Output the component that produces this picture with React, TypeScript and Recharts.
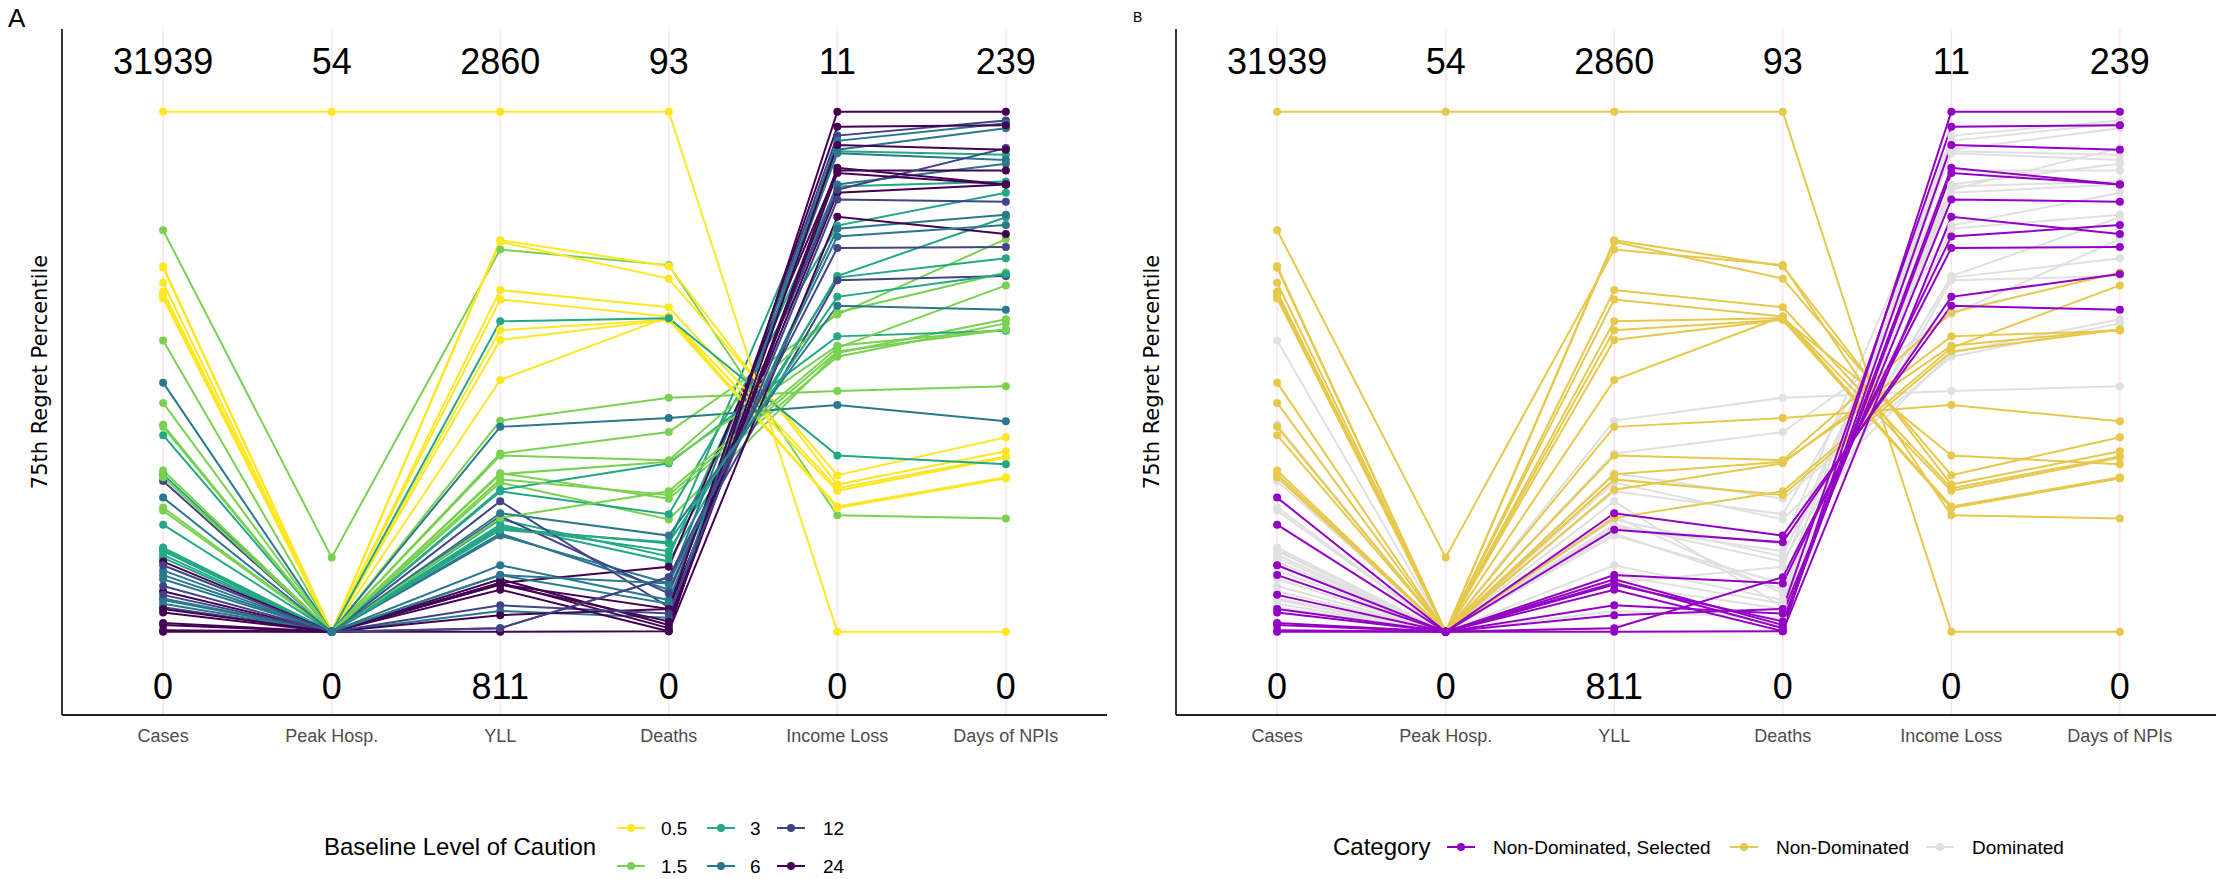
import React from 'react';
import { LineChart, Line, XAxis, YAxis, CartesianGrid, LabelList } from 'recharts';

// ---------- data ----------
const axisNames = ['Cases', 'Peak Hosp.', 'YLL', 'Deaths', 'Income Loss', 'Days of NPIs'];
const axisMaxLabels = ['31939', '54', '2860', '93', '11', '239'];
const axisMinLabels = ['0', '0', '811', '0', '0', '0'];

const cautionLegend = ['0.5', '1.5', '3', '6', '12', '24'];
const categoryLegend = ['Non-Dominated, Selected', 'Non-Dominated', 'Dominated'];

// one entry per policy line (dominated first, then non-dominated, then selected)
const cautionLevels = [
  '1.5', '1.5', '1.5', '1.5', '3', '3', '3', '3', '3', '12', '6', '6', '24', '24', '12', '6', '6', '6', '12',
  '0.5', '1.5', '0.5', '0.5', '0.5', '0.5', '0.5', '0.5', '0.5', '6', '3', '3', '1.5', '1.5', '1.5', '1.5',
  '24', '24', '24', '24', '24', '12', '24', '6', '12', '3', '6',
];
const categories = [
  'D', 'D', 'D', 'D', 'D', 'D', 'D', 'D', 'D', 'D', 'D', 'D', 'D', 'D', 'D', 'D', 'D', 'D', 'D',
  'N', 'N', 'N', 'N', 'N', 'N', 'N', 'N', 'N', 'N', 'N', 'N', 'N', 'N', 'N', 'N',
  'S', 'S', 'S', 'S', 'S', 'S', 'S', 'S', 'S', 'S', 'S',
];
const casesVals = [
  0.560, 0.398, 0.239, 0.233, 0.162, 0.148, 0.155, 0.142, 0.158, 0.290, 0.118, 0.061, 0.135, 0.078, 0.047, 0.064, 0.101, 0.054, 0.088,
  1.000, 0.772, 0.703, 0.700, 0.671, 0.654, 0.651, 0.646, 0.641, 0.479, 0.378, 0.303, 0.440, 0.394, 0.310, 0.297,
  0.000, 0.003, 0.013, 0.017, 0.037, 0.071, 0.044, 0.109, 0.128, 0.206, 0.258,
];
const peakVals = [
  0, 0, 0, 0, 0, 0, 0, 0, 0, 0, 0, 0, 0, 0, 0, 0, 0, 0, 0,
  1.000, 0.143, 0, 0, 0, 0, 0, 0, 0, 0, 0, 0, 0, 0, 0, 0,
  0, 0, 0, 0, 0, 0, 0, 0, 0, 0, 0,
];
const yllVals = [
  0.406, 0.343, 0.287, 0.305, 0.270, 0.216, 0.206, 0.199, 0.202, 0.251, 0.185, 0.128, 0.094, 0.091, 0.007, 0.109, 0.189, 0.040, 0.222,
  1.000, 0.735, 0.750, 0.753, 0.657, 0.639, 0.580, 0.561, 0.484, 0.394, 0.597, 0.273, 0.339, 0.303, 0.293, 0.219,
  0.000, 0.032, 0.094, 0.091, 0.101, 0.051, 0.081, 0.109, 0.007, 0.196, 0.228,
];
const deathsVals = [
  0.450, 0.384, 0.216, 0.256, 0.226, 0.145, 0.135, 0.170, 0.155, 0.047, 0.093, 0.061, 0.125, 0.044, 0.105, 0.054, 0.081, 0.027, 0.074,
  1.000, 0.705, 0.679, 0.703, 0.624, 0.606, 0.600, 0.600, 0.606, 0.411, 0.603, 0.324, 0.330, 0.327, 0.263, 0.270,
  0.001, 0.044, 0.007, 0.020, 0.013, 0.035, 0.001, 0.093, 0.105, 0.172, 0.185,
];
const incomeVals = [
  0.463, 0.610, 0.536, 0.529, 0.781, 0.856, 0.684, 0.924, 0.681, 0.954, 0.927, 0.860, 0.887, 0.844, 0.676, 0.920, 0.775, 0.944, 0.850,
  0.000, 0.224, 0.301, 0.283, 0.276, 0.271, 0.241, 0.238, 0.239, 0.436, 0.339, 0.568, 0.614, 0.550, 0.539, 0.546,
  1.000, 0.971, 0.936, 0.892, 0.882, 0.831, 0.798, 0.760, 0.738, 0.644, 0.627,
];
const daysVals = [
  0.472, 0.755, 0.601, 0.593, 0.844, 0.866, 0.797, 0.917, 0.718, 0.983, 0.968, 0.900, 0.887, 0.860, 0.684, 0.907, 0.802, 0.978, 0.930,
  0.000, 0.218, 0.374, 0.347, 0.337, 0.335, 0.297, 0.295, 0.295, 0.405, 0.322, 0.579, 0.691, 0.581, 0.581, 0.666,
  1.000, 0.974, 0.927, 0.860, 0.860, 0.827, 0.765, 0.782, 0.740, 0.688, 0.619,
];

// ---------- styles ----------
const cautionColors: Record<string, string> = {
  '0.5': '#FDE725', '1.5': '#7AD151', '3': '#22A884', '6': '#2A788E', '12': '#414487', '24': '#440154',
};
const categoryColors: Record<string, string> = { S: '#9400C3', N: '#E6C84C', D: '#E0E0E0' };
const categoryKeys = ['S', 'N', 'D'];

const FONT = "'Liberation Sans', Arial, sans-serif";
const TOP_LABEL_V = 1.097;
const BOTTOM_LABEL_V = -0.104;

const columns = [casesVals, peakVals, yllVals, deathsVals, incomeVals, daysVals];
const chartData = axisNames.map((name, i) => {
  const row: Record<string, number | string> = {
    x: i,
    name,
    top: TOP_LABEL_V,
    bottom: BOTTOM_LABEL_V,
    topText: axisMaxLabels[i],
    bottomText: axisMinLabels[i],
  };
  columns[i].forEach((v, j) => {
    row['l' + j] = v;
  });
  return row;
});

const bigLabel = (props: any) => {
  const vb = props.viewBox || {};
  const x = (props.x ?? vb.x) + ((props.width ?? vb.width) || 0) / 2;
  const y = (props.y ?? vb.y) + ((props.height ?? vb.height) || 0) / 2;
  return (
    <text x={x} y={y} dy="0.36em" textAnchor="middle" fontSize={36} fontFamily={FONT} fill="#000">
      {props.value}
    </text>
  );
};

function Panel({ width, left, colorOf }: { width: number; left: number; colorOf: (j: number) => string }) {
  const plotW = 1045;
  const yAxisW = 1;
  return (
    <LineChart
      width={width}
      height={879}
      data={chartData}
      margin={{ top: 29, right: width - left - plotW, bottom: 134, left: left - yAxisW }}
    >
      <CartesianGrid
        horizontal={false}
        vertical
        verticalValues={[0, 1, 2, 3, 4, 5]}
        stroke="#FCE6E9"
        strokeWidth={1.6}
      />
      <XAxis
        dataKey="x"
        type="number"
        domain={[-0.6, 5.6]}
        ticks={[0, 1, 2, 3, 4, 5]}
        allowDataOverflow
        tickFormatter={(i: number) => axisNames[i]}
        tickLine={false}
        tickMargin={8}
        height={30}
        axisLine={{ stroke: '#222', strokeWidth: 1.8 }}
        tick={{ fill: '#4D4D4D', fontSize: 18, fontFamily: FONT }}
      />
      <YAxis
        type="number"
        domain={[-0.16, 1.159]}
        allowDataOverflow
        width={yAxisW}
        tick={false}
        tickLine={false}
        axisLine={{ stroke: '#222', strokeWidth: 1.8 }}
      />
      {casesVals.map((_, j) => {
        const c = colorOf(j);
        return (
          <Line
            key={'l' + j}
            dataKey={'l' + j}
            stroke={c}
            strokeWidth={2}
            dot={{ r: 4, fill: c, stroke: c, strokeWidth: 0 }}
            activeDot={false}
            isAnimationActive={false}
          />
        );
      })}
      <Line dataKey="top" stroke="none" dot={false} activeDot={false} isAnimationActive={false}>
        <LabelList dataKey="topText" content={bigLabel} />
      </Line>
      <Line dataKey="bottom" stroke="none" dot={false} activeDot={false} isAnimationActive={false}>
        <LabelList dataKey="bottomText" content={bigLabel} />
      </Line>
    </LineChart>
  );
}

function LegendKey({ x, y, color }: { x: number; y: number; color: string }) {
  return (
    <g>
      <line x1={x} y1={y} x2={x + 28} y2={y} stroke={color} strokeWidth={2} />
      <circle cx={x + 14} cy={y} r={4} fill={color} />
    </g>
  );
}

export default function App() {
  const symX = [617, 707, 777];
  const labX = [661, 750, 823];
  const rowY = [828, 866];
  const catSymX = [1447, 1730, 1926];
  const catLabX = [1493, 1776, 1972];
  return (
    <div
      style={{
        position: 'absolute',
        left: 0,
        top: 0,
        width: 2216,
        height: 879,
        overflow: 'hidden',
        background: '#fff',
      }}
    >
      <div style={{ position: 'absolute', left: 0, top: 0 }}>
        <Panel width={1108} left={62} colorOf={(j) => cautionColors[cautionLevels[j]]} />
      </div>
      <div style={{ position: 'absolute', left: 1108, top: 0 }}>
        <Panel width={1114} left={68} colorOf={(j) => categoryColors[categories[j]]} />
      </div>
      <svg
        width={2216}
        height={879}
        style={{ position: 'absolute', left: 0, top: 0, pointerEvents: 'none' }}
      >
        <text x={8} y={27} fontSize={26} fontFamily={FONT} fill="#000">A</text>
        <text x={1133} y={22} fontSize={14} fontFamily={FONT} fill="#000">B</text>
        <text
          transform="translate(40,372) rotate(-90)"
          textAnchor="middle"
          dy="0.35em"
          fontSize={21}
          fontFamily="'DejaVu Sans', sans-serif"
          fill="#000"
        >
          75th Regret Percentile
        </text>
        <text
          transform="translate(1152,372) rotate(-90)"
          textAnchor="middle"
          dy="0.35em"
          fontSize={21}
          fontFamily="'DejaVu Sans', sans-serif"
          fill="#000"
        >
          75th Regret Percentile
        </text>

        {/* Legend A */}
        <text x={324} y={847} dy="0.35em" fontSize={24} fontFamily={FONT} fill="#000">
          Baseline Level of Caution
        </text>
        {cautionLegend.map((lvl, k) => {
          const col = Math.floor(k / 2);
          const row = k % 2;
          return (
            <g key={lvl}>
              <LegendKey x={symX[col]} y={rowY[row]} color={cautionColors[lvl]} />
              <text x={labX[col]} y={rowY[row]} dy="0.35em" fontSize={19} fontFamily={FONT} fill="#000">
                {lvl}
              </text>
            </g>
          );
        })}

        {/* Legend B */}
        <text x={1333} y={847} dy="0.35em" fontSize={24} fontFamily={FONT} fill="#000">
          Category
        </text>
        {categoryLegend.map((lab, k) => (
          <g key={lab}>
            <LegendKey x={catSymX[k]} y={847} color={categoryColors[categoryKeys[k]]} />
            <text x={catLabX[k]} y={847} dy="0.35em" fontSize={19} fontFamily={FONT} fill="#000">
              {lab}
            </text>
          </g>
        ))}
      </svg>
    </div>
  );
}
